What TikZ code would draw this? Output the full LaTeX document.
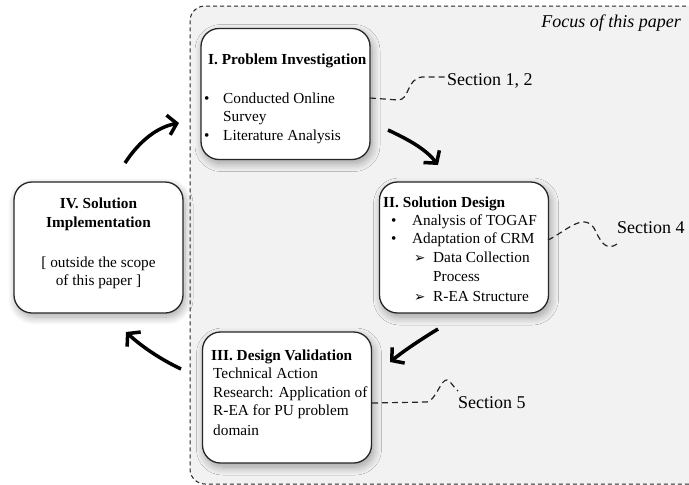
\documentclass[tikz,border=0pt]{standalone}
\usepackage{fontspec}
\setmainfont{Liberation Serif}
\newfontfamily\symfont{DejaVu Sans}
\usetikzlibrary{arrows.meta,shadows.blur}
\begin{document}
\begin{tikzpicture}[x=1pt,y=-1pt,
  stage/.style={draw=black!85, line width=1.3pt, rounded corners=18pt, fill=white,
    inner sep=0pt, minimum width=169pt, minimum height=131pt,
    blur shadow={shadow xshift=2pt, shadow yshift=-4pt, shadow blur radius=8pt, shadow blur steps=12, shadow opacity=35}},
  txt/.style={anchor=base west, inner sep=0pt, font=\fontsize{15.3}{18}\selectfont},
  ctxt/.style={anchor=base, inner sep=0pt, font=\fontsize{15.3}{18}\selectfont},
  ttl/.style={txt, font=\fontsize{15.3}{18}\selectfont\bfseries},
  sec/.style={anchor=base west, inner sep=0pt, font=\fontsize{18}{20}\selectfont},
  link/.style={draw=black!85, line width=1.2pt, dash pattern=on 6pt off 4pt},
  flow/.style={draw=black, line width=3.5pt, -{Straight Barb[length=8.5pt, width=20pt]}},
  region/.style={fill=black!5, draw=black!85, line width=1pt, dash pattern=on 4pt off 3pt, rounded corners=15pt}
]
\useasboundingbox (0,0) rectangle (689,485);
% focus region
\path[region] (700,6) -- (190,6) -- (190,484) -- (700,484);
\node[anchor=base east, inner sep=0pt, font=\fontsize{18}{20}\selectfont\itshape] (focus) at (681,27) {Focus of this paper};

% boxes
\node[stage] (b1) at (285.5,94) {};
\node[stage] (b2) at (464,247.5) {};
\node[stage] (b3) at (287,397.5) {};
\node[stage] (b4) at (98.5,247.5) {};

% box I text
\node[ttl] (t1) at (208,64) {I. Problem Investigation};
\node[txt] (t1b1) at (204,103) {•};
\node[txt] (t1a) at (223,103) {Conducted Online};
\node[txt] (t1b) at (223,121) {Survey};
\node[txt] (t1b2) at (204,140) {•};
\node[txt] (t1c) at (223,140) {Literature Analysis};

% box II text
\node[ttl] (t2) at (383,207) {II. Solution Design};
\node[txt] (t2b1) at (391,225) {•};
\node[txt] (t2a) at (412,225) {Analysis of TOGAF};
\node[txt] (t2b2) at (391,243) {•};
\node[txt] (t2b) at (412,243) {Adaptation of CRM};
\node[txt, font=\fontsize{13.5}{14}\symfont] (t2b3) at (414,262) {➢};
\node[txt] (t2c) at (433,262) {Data Collection};
\node[txt] (t2d) at (433,281) {Process};
\node[txt, font=\fontsize{13.5}{14}\symfont] (t2b4) at (414,301) {➢};
\node[txt] (t2e) at (433,301) {R-EA Structure};

% box III text
\node[ttl] (t3) at (211,360) {III. Design Validation};
\node[txt] (t3a) at (213,378) {Technical Action};
\node[txt] (t3b) at (213,397) {Research: Application of};
\node[txt] (t3c) at (213,415) {R-EA for PU problem};
\node[txt] (t3d) at (213,435) {domain};

% box IV text
\node[ctxt, font=\fontsize{15.3}{18}\selectfont\bfseries] (t4a) at (98.5,208) {IV. Solution};
\node[ctxt, font=\fontsize{15.3}{18}\selectfont\bfseries] (t4b) at (98.5,227) {Implementation};
\node[ctxt] (t4c) at (98.5,267) {[ outside the scope};
\node[ctxt] (t4d) at (98.5,285) {of this paper ]};

% section labels
\node[sec] (s12) at (447,85) {Section 1, 2};
\node[sec] (s4) at (617,233) {Section 4};
\node[sec] (s5) at (458,408) {Section 5};

% section links
\coordinate (l1) at (370,98);
\coordinate (l2) at (548,240);
\coordinate (l3) at (372,403);
\path[link] (l1) -- (398,100) .. controls (410,100) and (406,79) .. (422,77) -- (s12.west |- 0,77);
\path[link] (l2) .. controls (565,232) and (583,212) .. (594,228) .. controls (600,240) and (605,252) .. (s4.west |- 0,244);
\path[link] (l3) -- (427,402) .. controls (436,400) and (441,379) .. (447,380) .. controls (451,381) and (453,387) .. (s5.west |- 0,391);

% flow arrows
\coordinate (a1s) at (388,130); \coordinate (a1e) at (438,165);
\coordinate (a2s) at (438,329); \coordinate (a2e) at (390,362);
\coordinate (a3s) at (181,369); \coordinate (a3e) at (126,332);
\coordinate (a4s) at (125,163); \coordinate (a4e) at (179,123);
\path[flow] (a1s) .. controls (405,138) and (425,148) .. (a1e);
\path[flow] (a2s) .. controls (420,340) and (405,350) .. (a2e);
\path[flow] (a3s) .. controls (158,358) and (140,345) .. (a3e);
\path[flow] (a4s) .. controls (140,140) and (158,127) .. (a4e);
\end{tikzpicture}
\end{document}
